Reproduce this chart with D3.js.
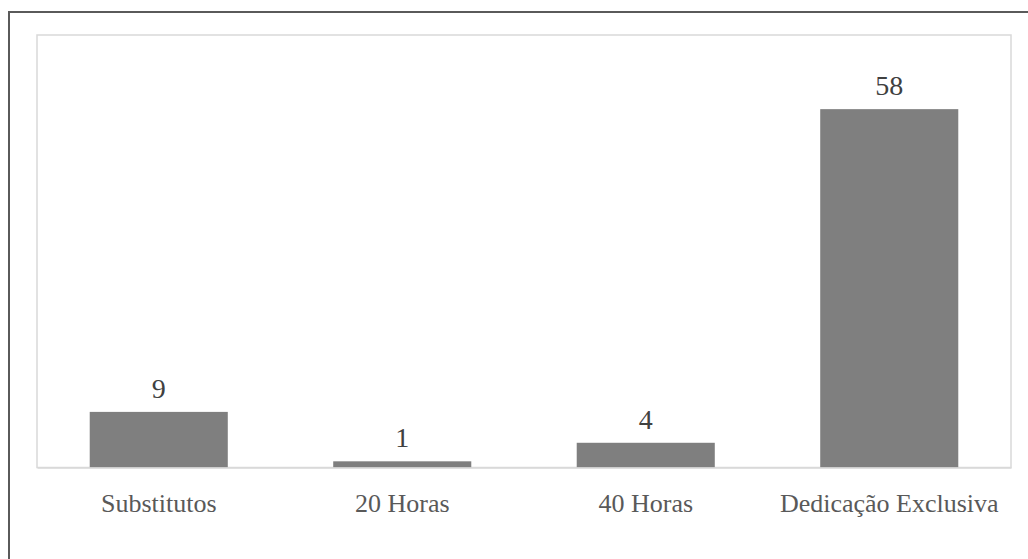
<!DOCTYPE html>
<html><head><meta charset="utf-8">
<script src="https://cdn.jsdelivr.net/npm/d3@7"></script>
<style>html,body{margin:0;padding:0;background:#fff;}svg{display:block;}</style>
</head><body>
<script>
const categories = ["Substitutos", "20 Horas", "40 Horas", "Dedicação Exclusiva"];
const values = [9, 1, 4, 58];
const yMax = 70;

const W = 1028, H = 559;
const FONT = '"Liberation Serif", "Times New Roman", serif';
const svg = d3.select("body").append("svg").attr("width", W).attr("height", H);

// outer frame (top and left visible)
svg.append("line").attr("x1", 9).attr("x2", W).attr("y1", 12).attr("y2", 12)
  .attr("stroke", "#5a5a5a").attr("stroke-width", 2);
svg.append("line").attr("x1", 9).attr("x2", 9).attr("y1", 11).attr("y2", H)
  .attr("stroke", "#5a5a5a").attr("stroke-width", 2);

const plot = {left: 37, right: 1011, top: 35, bottom: 467.5};

const x = d3.scaleBand().domain(categories).range([plot.left, plot.right]).paddingInner(0.433).paddingOuter(0.2165);
const y = d3.scaleLinear().domain([0, yMax]).range([plot.bottom, plot.top]);

svg.append("rect").attr("x", plot.left).attr("y", plot.top)
  .attr("width", plot.right - plot.left).attr("height", plot.bottom - plot.top)
  .attr("fill", "none").attr("stroke", "#d9d9d9").attr("stroke-width", 1.5);

svg.selectAll("rect.bar").data(values).join("rect").attr("class", "bar")
  .attr("x", (d, i) => x(categories[i]))
  .attr("width", x.bandwidth())
  .attr("y", d => y(d))
  .attr("height", d => y(0) - y(d))
  .attr("fill", "#7f7f7f");

svg.selectAll("text.val").data(values).join("text").attr("class", "val")
  .attr("x", (d, i) => x(categories[i]) + x.bandwidth() / 2)
  .attr("y", d => y(d) - 14)
  .attr("text-anchor", "middle")
  .style("font-family", FONT)
  .style("font-size", "28px")
  .attr("fill", "#404040")
  .text(d => d);

const xAxis = svg.append("g").attr("transform", `translate(0,${plot.bottom})`)
  .call(d3.axisBottom(x).tickSize(0).tickPadding(0));
xAxis.select(".domain").attr("stroke", "#d9d9d9").attr("stroke-width", 1.5);
xAxis.selectAll("text")
  .attr("y", 44)
  .attr("dy", 0)
  .style("font-family", FONT)
  .style("font-size", "26px")
  .attr("fill", "#595959");
</script>
</body></html>
